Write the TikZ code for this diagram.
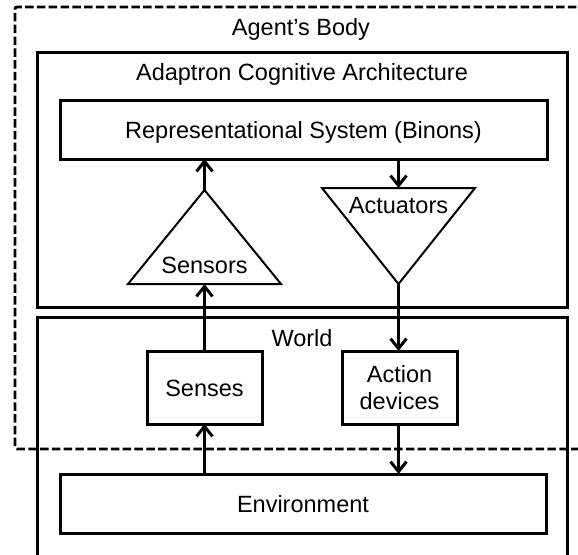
\documentclass[tikz,border=0pt]{standalone}
\usepackage{fontspec}
\setmainfont{Liberation Sans}
\usetikzlibrary{arrows.meta}
\begin{document}
\begin{tikzpicture}[x=1pt,y=-1pt,
  box/.style={draw,line width=3pt,inner sep=0pt,outer sep=0pt,
    font=\fontsize{23.5}{27}\selectfont},
  onebox/.style={box,text height=18pt,text depth=0pt},
  lbl/.style={anchor=base,inner sep=0pt,outer sep=0pt,font=\fontsize{23.5}{27}\selectfont},
  conn/.style={line width=3pt,-{Straight Barb[length=10pt,width=16pt,line width=3pt]}},
  tri/.style={draw,line width=2pt,line join=miter},
  frame/.style={draw,line width=3pt}]
\useasboundingbox (0,0) rectangle (578,554);
\clip (0,0) rectangle (578,554);
% dashed agent body
\draw[line width=2.8pt,dash pattern=on 8.5pt off 3.3pt,rounded corners=2pt]
  (600,7) -- (15,7) -- (15,449) -- (600,449);
\node[lbl] (agentlbl) at (301,35) {Agent’s Body};
% adaptron
\node[frame,inner sep=0pt,outer sep=0pt,minimum width=530pt,minimum height=255pt] (adapt) at (302,179.5) {};
\node[lbl] (adaptlbl) at (302,80) {Adaptron Cognitive Architecture};
\node[onebox,minimum width=487pt,minimum height=59pt] (rep) at (303.5,129.5) {Representational System (Binons)};
% sensors triangle
\coordinate (sA) at (204.5,190);
\coordinate (sL) at (128,284);
\coordinate (sR) at (281,284);
\coordinate (sB) at (204.5,284);
\draw[tri] (sL) -- (sA) -- (sR) -- cycle;
\node[lbl] (senslbl) at (204.5,273) {Sensors};
% actuators triangle
\coordinate (aL) at (322,188);
\coordinate (aR) at (475,188);
\coordinate (aA) at (398.5,284);
\coordinate (aT) at (398.5,188);
\draw[tri] (aL) -- (aR) -- (aA) -- cycle;
\node[lbl] (actlbl) at (398.5,213) {Actuators};
% world
\draw[frame] (37,600) -- (37,317) -- (567,317) -- (567,600);
\node[lbl] (worldlbl) at (302,346) {World};
\node[onebox,minimum width=115pt,minimum height=73pt] (senses) at (204.5,387.5) {Senses};
\node[box,minimum width=115pt,minimum height=73pt,align=center] (action) at (399.5,387.5) {Action\\devices};
\node[onebox,minimum width=486pt,minimum height=59pt] (env) at (303,503.5) {Environment};
% connectors
\draw[conn] (senses.north) -- (sB);
\draw[conn] (sA) -- (sA |- rep.south);
\draw[conn] (aT |- rep.south) -- (aT);
\draw[conn] (aA) -- (aA |- action.north);
\draw[conn] (action.south -| aA) -- (aA |- env.north);
\draw[conn] (env.north -| senses.south) -- (senses.south);
\end{tikzpicture}
\end{document}
